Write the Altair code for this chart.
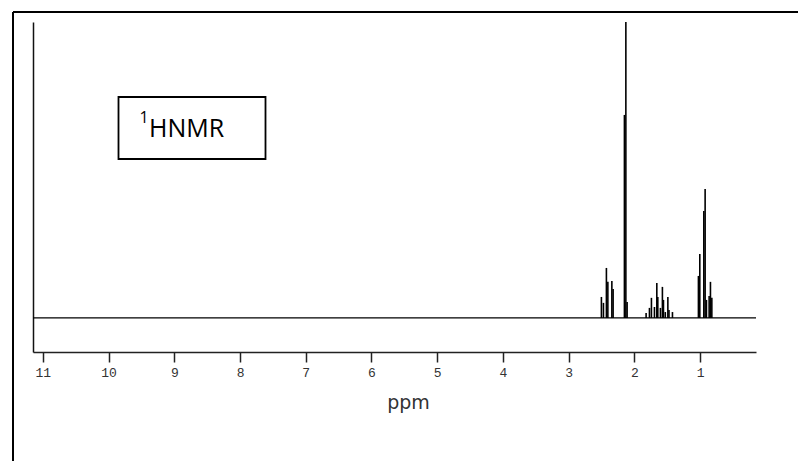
import altair as alt
import pandas as pd

# peak positions (ppm) and relative intensities
peak_ppm = [2.502, 2.471, 2.426, 2.404, 2.343, 2.324, 2.152, 2.130, 2.111,
            1.822, 1.771, 1.741, 1.695, 1.659, 1.644, 1.604, 1.574, 1.558,
            1.530, 1.491, 1.474, 1.421,
            1.026, 1.005, 0.944, 0.924, 0.904, 0.863, 0.843, 0.822]
peak_int = [0.071, 0.051, 0.169, 0.122, 0.125, 0.098, 0.686, 1.000, 0.054,
            0.017, 0.034, 0.068, 0.037, 0.118, 0.071, 0.034, 0.105, 0.061,
            0.020, 0.071, 0.027, 0.020,
            0.142, 0.216, 0.361, 0.436, 0.061, 0.074, 0.122, 0.068]

tick_values = [11, 10.5, 10, 9.5, 9, 8.5, 8, 7.5, 7, 6.5, 6, 5.5, 5, 4.5,
               4, 3.5, 3, 2.5, 2, 1.5, 1, 0.5]
x_domain = [11.15, 0.15]
y_domain = [-0.115, 1.0]
label_text = "HNMR"
label_sup = "1"
x_title = "ppm"

W, H = 723, 330

peaks = pd.DataFrame({"ppm": peak_ppm, "intensity": peak_int, "zero": 0.0})

xscale = alt.Scale(domain=x_domain, nice=False, zero=False)
yscale = alt.Scale(domain=y_domain, nice=False, zero=False)

xaxis = alt.Axis(
    values=tick_values,
    format="d",
    labelExpr="datum.value % 1 == 0 ? datum.label : ''",
    tickSize={"condition": {"test": "datum.value % 1 == 0", "value": 10}, "value": 4},
    tickColor="#222222",
    tickWidth=1.5,
    domainColor="#222222",
    domainWidth=1.5,
    grid=False,
    labelFont="Liberation Mono",
    labelFontSize=13,
    labelColor="#333333",
    labelPadding=4,
    labelFlush=False,
    labelOverlap=False,
    title=x_title,
    titleFont="DejaVu Sans",
    titleFontSize=19,
    titleFontWeight="normal",
    titleColor="#333333",
    titleX=375,
    titleY=50,
    titleBaseline="middle",
    titleAnchor="start",
    titleAlign="center",
)

yaxis = alt.Axis(
    ticks=False, labels=False, grid=False, title=None,
    domainColor="#111111", domainWidth=1.5,
)

sticks = alt.Chart(peaks).mark_rule(color="black", strokeWidth=1.6).encode(
    x=alt.X("ppm:Q", scale=xscale, axis=xaxis),
    y=alt.Y("zero:Q", scale=yscale, axis=yaxis),
    y2="intensity:Q",
)

baseline = alt.Chart(pd.DataFrame({"zero": [0.0]})).mark_rule(
    color="black", strokeWidth=1.2
).encode(
    y=alt.Y("zero:Q", scale=yscale),
    x=alt.value(0),
    x2=alt.value(W),
)

box = alt.Chart(pd.DataFrame({"a": [0]})).mark_rect(
    fill="white", stroke="black", strokeWidth=1.8
).encode(
    x=alt.value(85.5), x2=alt.value(232.5),
    y=alt.value(75), y2=alt.value(137),
)

txt = alt.Chart(pd.DataFrame({"t": [label_text]})).mark_text(
    font="Open Sans", fontSize=25, align="left", baseline="alphabetic", color="black"
).encode(text="t:N", x=alt.value(116), y=alt.value(115))

sup = alt.Chart(pd.DataFrame({"t": [label_sup]})).mark_text(
    font="Open Sans", fontSize=16, align="center", baseline="middle", color="black"
).encode(text="t:N", x=alt.value(111), y=alt.value(96))

frame_top = alt.Chart(pd.DataFrame({"a": [0]})).mark_rule(
    color="black", strokeWidth=2
).encode(x=alt.value(-20), x2=alt.value(W + 60), y=alt.value(-10))

frame_left = alt.Chart(pd.DataFrame({"a": [0]})).mark_rule(
    color="black", strokeWidth=2
).encode(x=alt.value(-20), y=alt.value(-10), y2=alt.value(H + 120))

chart = alt.layer(
    baseline, sticks, box, txt, sup, frame_top, frame_left
).properties(
    width=W, height=H,
    padding={"left": 33, "top": 22, "right": 42, "bottom": 109},
    autosize=alt.AutoSizeParams(type="none"),
    background="white",
).configure_view(stroke=None)

chart.save("out.html", embed_options={"renderer": "svg", "actions": False})
